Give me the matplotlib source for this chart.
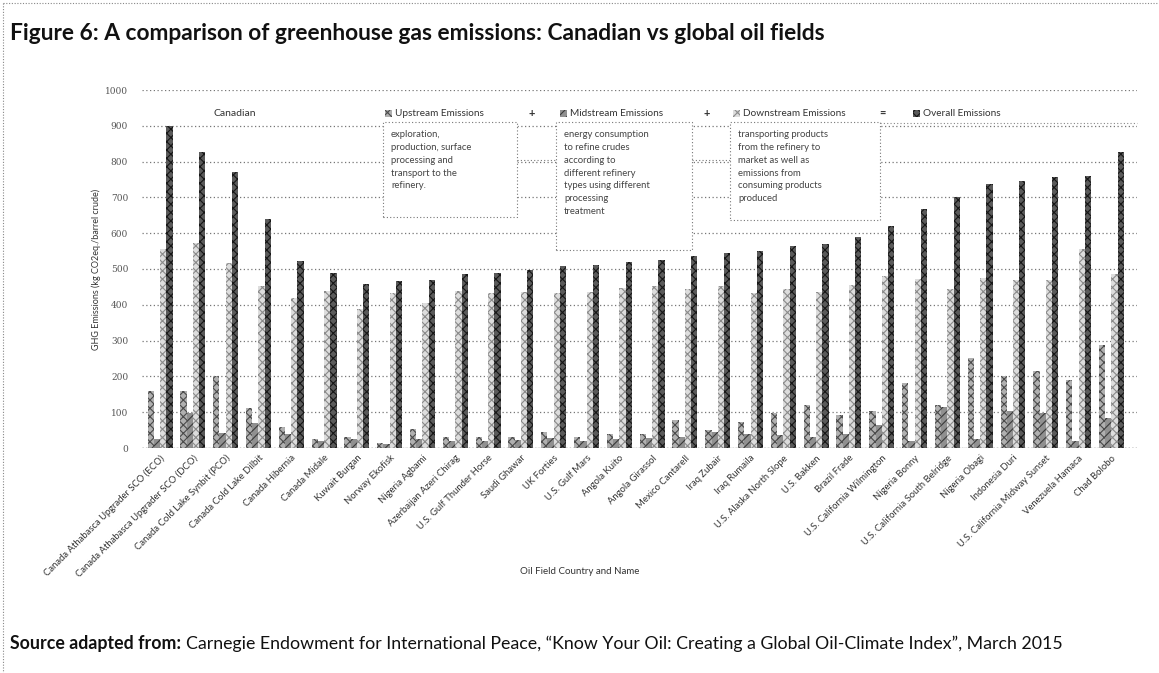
import numpy as np
import matplotlib
matplotlib.use("Agg")
import matplotlib.pyplot as plt
from matplotlib.lines import Line2D
from matplotlib.patches import Rectangle

W, H = 1159, 673

fields = [
    "Canada Athabasca Upgrader SCO (ECO)", "Canada Athabasca Upgrader SCO (DCO)",
    "Canada Cold Lake Synbit (PCO)", "Canada Cold Lake Dilbit", "Canada Hibernia",
    "Canada Midale", "Kuwait Burgan", "Norway Ekofisk", "Nigeria Agbami",
    "Azerbaijan Azeri Chirag", "U.S. Gulf Thunder Horse", "Saudi Ghawar",
    "UK Forties", "U.S. Gulf Mars", "Angola Kuito", "Angola Girassol",
    "Mexico Cantarell", "Iraq Zubair", "Iraq Rumaila", "U.S. Alaska North Slope",
    "U.S. Bakken", "Brazil Frade", "U.S. California Wilmington", "Nigeria Bonny",
    "U.S. California South Belridge", "Nigeria Obagi", "Indonesia Duri",
    "U.S. California Midway Sunset", "Venezuela Hamaca", "Chad Bolobo",
]

upstream = [158, 158, 200, 112, 60, 25, 30, 15, 52, 30, 30, 32, 46, 32, 40,
            40, 78, 50, 74, 98, 120, 92, 102, 182, 120, 252, 200, 214, 190, 288]
midstream = [25, 98, 42, 70, 40, 20, 25, 12, 25, 20, 20, 22, 28, 20, 25,
             28, 30, 45, 40, 35, 30, 40, 64, 20, 115, 25, 102, 98, 20, 84]
downstream = [555, 574, 518, 452, 420, 438, 387, 434, 406, 438, 434, 437, 434, 437, 448,
              452, 445, 452, 434, 445, 437, 456, 480, 473, 443, 476, 470, 470, 555, 485]
overall = [900, 826, 770, 639, 522, 490, 457, 466, 470, 487, 490, 498, 508, 512, 520,
           525, 535, 545, 550, 564, 569, 588, 620, 667, 700, 737, 746, 756, 760, 826]

series = [
    ("Upstream Emissions", upstream, "#b0b0b0", "#4a4a4a", "xxxx"),
    ("Midstream Emissions", midstream, "#909090", "#3a3a3a", "////"),
    ("Downstream Emissions", downstream, "#dddddd", "#8a8a8a", "xxxx"),
    ("Overall Emissions", overall, "#5a5a5a", "#161616", "xxxx"),
]

plt.rcParams["hatch.linewidth"] = 0.8
plt.rcParams["font.family"] = ["Lato", "DejaVu Sans"]


def fx(px):
    return px / W


def fy(py):
    return 1 - py / H


fig = plt.figure(figsize=(W / 100, H / 100), dpi=100)
fig.patch.set_facecolor("white")

# dotted page border (top and left visible in the scan)
fig.add_artist(Line2D([fx(3), 1], [fy(3), fy(3)], ls=(0, (1, 1.5)), lw=0.8, color="#888"))
fig.add_artist(Line2D([fx(3), fx(3)], [fy(3), 0], ls=(0, (1, 1.5)), lw=0.8, color="#888"))

fig.text(fx(10), fy(33), "Figure 6: A comparison of greenhouse gas emissions: Canadian vs global oil fields",
         fontsize=16.4, fontweight="bold", va="center", ha="left", color="#111")

ax = fig.add_axes([fx(142), fy(448), (1137 - 142) / W, (448 - 90) / H])
x = np.arange(len(fields))
offsets = [-0.285, -0.095, 0.095, 0.285]
for (name, vals, fc, ec, hatch), off in zip(series, offsets):
    ax.bar(x + off, vals, width=0.19, color=fc, edgecolor=ec, hatch=hatch,
           linewidth=0, zorder=3, label=name)

ax.set_xlim(-0.55, len(fields) - 0.22)
ax.set_ylim(0, 1000)
ax.set_yticks(np.arange(0, 1001, 100))
ax.set_yticklabels([str(v) for v in range(0, 1001, 100)], fontsize=6.5, color="#555",
                   family="DejaVu Serif")
ax.yaxis.grid(True, ls=(0, (1, 2)), lw=0.9, color="#777", zorder=0)
for s in ax.spines.values():
    s.set_visible(False)
ax.tick_params(length=0, pad=10)
ax.set_xticks(x)
ax.set_xticklabels(fields, rotation=45, ha="right", rotation_mode="anchor",
                   fontsize=6.8, color="#333")
ax.tick_params(axis="x", pad=4)
ax.axhline(0, ls=(0, (1, 1.5)), lw=1.0, color="#666", zorder=4)

ax.set_ylabel("GHG Emissions (kg CO2eq./barrel crude)", fontsize=6.5, color="#333", labelpad=3)
fig.text(fx(580), fy(572), "Oil Field Country and Name", fontsize=7, color="#333",
         ha="center", va="center")

# legend row
fig.text(fx(235), fy(113), "Canadian", fontsize=7.5, color="#333", ha="center", va="center")
leg_x = [385, 560, 733, 913]
for (name, vals, fc, ec, hatch), lx in zip(series, leg_x):
    fig.add_artist(Rectangle((fx(lx), fy(117)), 7 / W, 7 / H, facecolor=fc, edgecolor=ec,
                             hatch=hatch, linewidth=0, transform=fig.transFigure))
    fig.text(fx(lx + 10), fy(113), name, fontsize=7.2, color="#333", ha="left", va="center")
for sx, sym in [(532, "+"), (707, "+"), (882, "=")]:
    fig.text(fx(sx), fy(113), sym, fontsize=8, color="#333", ha="center", va="center",
             fontweight="bold")
fig.add_artist(Line2D([fx(880), fx(1137)], [fy(123), fy(123)], ls=(0, (1, 2)), lw=0.8, color="#888"))

# explanatory boxes
boxes = [
    (383, 122, 517, 217, "exploration,\nproduction, surface\nprocessing and\ntransport to the\nrefinery."),
    (556, 122, 692, 250, "energy consumption\nto refine crudes\naccording to\ndifferent refinery\ntypes using different\nprocessing\ntreatment"),
    (730, 122, 880, 220, "transporting products\nfrom the refinery to\nmarket as well as\nemissions from\nconsuming products\nproduced"),
]
for x0, y0, x1, y1, txt in boxes:
    fig.add_artist(Rectangle((fx(x0), fy(y1)), (x1 - x0) / W, (y1 - y0) / H, facecolor="white",
                             edgecolor="#777", ls=(0, (1, 2)), lw=0.8, transform=fig.transFigure,
                             zorder=5))
    fig.text(fx(x0 + 8), fy(y0 + 8), txt, fontsize=6.8, color="#444", ha="left", va="top",
             linespacing=1.55, zorder=6)
for x0, x1 in [(517, 556), (692, 730)]:
    fig.add_artist(Line2D([fx(x0), fx(x1)], [fy(160), fy(160)], ls=(0, (1, 2)), lw=0.8,
                          color="#777", zorder=6))

src_bold = fig.text(fx(10), fy(644), "Source adapted from:", fontsize=12.8, fontweight="bold",
                    color="#111", ha="left", va="center")
fig.canvas.draw()
bb = src_bold.get_window_extent()
fig.text(fx(bb.x1 + 5), fy(644),
         "Carnegie Endowment for International Peace, \u201cKnow Your Oil: Creating a Global "
         "Oil-Climate Index\u201d, March 2015",
         fontsize=12.8, color="#111", ha="left", va="center")

fig.savefig("out.png", dpi=100)
